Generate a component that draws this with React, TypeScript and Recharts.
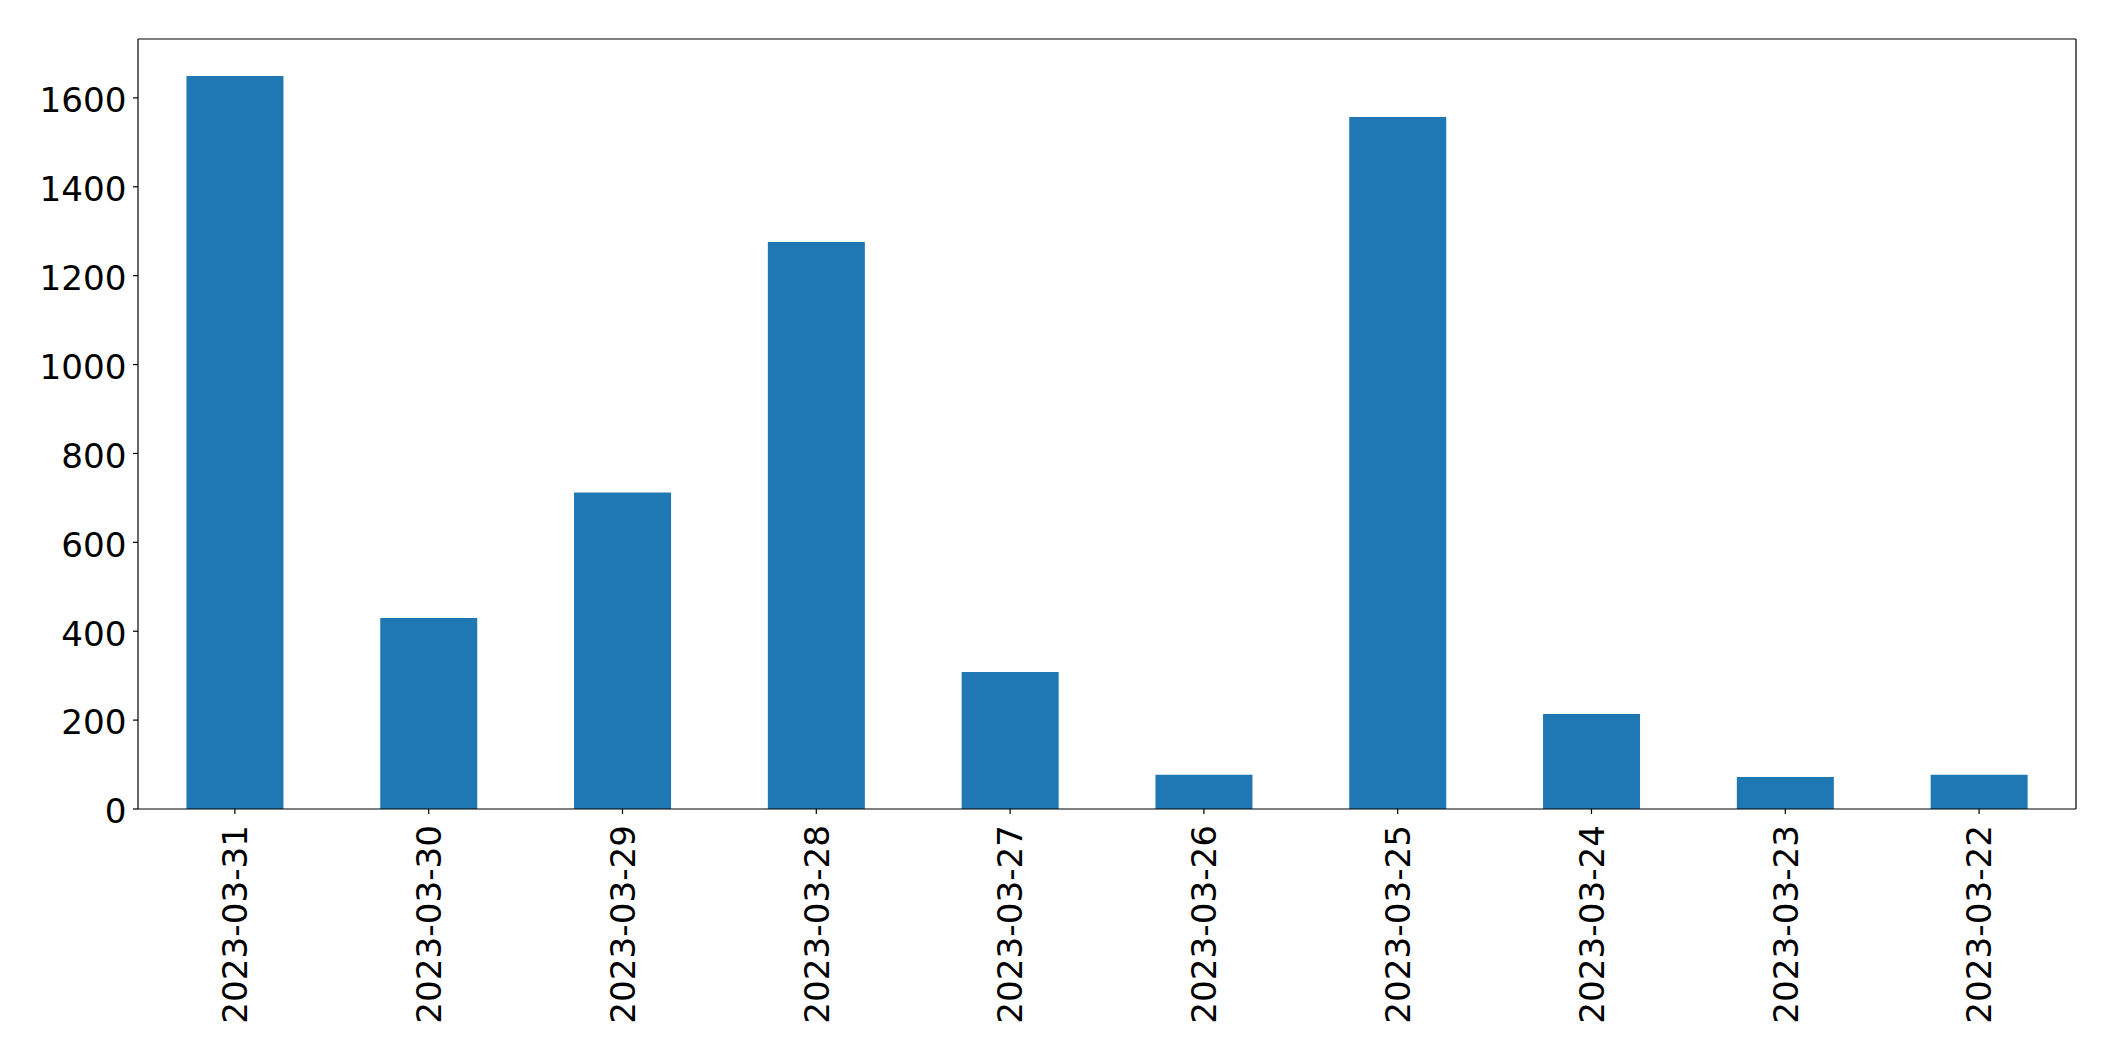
import React from "react";
import { BarChart, Bar, XAxis, YAxis, ReferenceLine } from "recharts";

const dates = [
  "2023-03-31", "2023-03-30", "2023-03-29", "2023-03-28", "2023-03-27",
  "2023-03-26", "2023-03-25", "2023-03-24", "2023-03-23", "2023-03-22",
];
const counts = [1649, 430, 712, 1276, 308, 77, 1557, 214, 72, 77];
const yTicks = [0, 200, 400, 600, 800, 1000, 1200, 1400, 1600];
const yMax = 1732.5;

const data = dates.map((d, i) => ({ date: d, value: counts[i] }));

const FONT = "'DejaVu Sans', sans-serif";
const FS = 34.2;

const XTick = (props: any) => {
  const { x, y, payload } = props;
  return (
    <text
      x={0}
      y={0}
      transform={`translate(${x},${y + 10}) rotate(-90)`}
      textAnchor="end"
      dy="0.36em"
      fontSize={FS}
      fontFamily={FONT}
      fill="#000"
    >
      {payload.value}
    </text>
  );
};

const YTick = (props: any) => {
  const { x, y, payload } = props;
  return (
    <text
      x={x}
      y={y}
      textAnchor="end"
      dy="0.42em"
      fontSize={FS}
      fontFamily={FONT}
      fill="#000"
    >
      {payload.value}
    </text>
  );
};

export default function App() {
  return (
    <BarChart
      width={2107}
      height={1053}
      data={data}
      margin={{ top: 31, right: 39, bottom: 12, left: 0 }}
      barCategoryGap="25%"
    >
      <XAxis
        dataKey="date"
        interval={0}
        height={240}
        tick={<XTick />}
        tickSize={5}
        tickMargin={1}
        stroke="#000"
        strokeWidth={1.2}
      />
      <YAxis
        width={130}
        domain={[0, yMax]}
        ticks={yTicks}
        interval={0}
        tick={<YTick />}
        tickSize={5}
        tickMargin={6.6}
        stroke="#000"
        strokeWidth={1.2}
      />
      <Bar dataKey="value" fill="#1f77b4" isAnimationActive={false} />
      <ReferenceLine y={yMax} stroke="#000" strokeWidth={1.2} ifOverflow="visible" />
      <ReferenceLine
        x={dates[dates.length - 1]}
        position="end"
        stroke="#000"
        strokeWidth={1.2}
        ifOverflow="visible"
      />
    </BarChart>
  );
}
